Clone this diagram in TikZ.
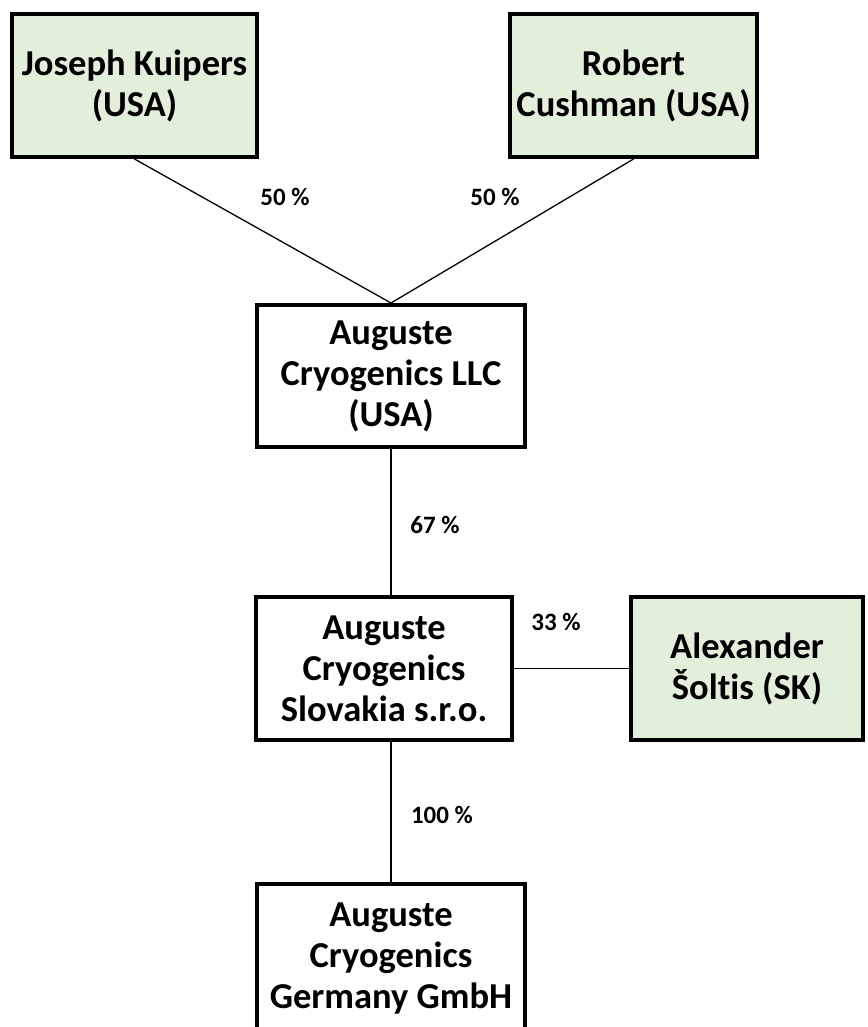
\documentclass[tikz,border=0pt]{standalone}
\usepackage{fontspec}
\setmainfont{Carlito}[Ligatures=NoCommon]
\definecolor{lgreen}{HTML}{E2EFDA}
\begin{document}
\begin{tikzpicture}[x=1pt,y=-1pt,
  box/.style={draw=black, line width=4pt, align=center, inner sep=0pt,
    font=\fontsize{36.5}{41}\selectfont\bfseries},
  person/.style={box, fill=lgreen},
  company/.style={box, fill=white},
  conn/.style={line width=1.3pt},
  pct/.style={font=\fontsize{25}{29}\selectfont\bfseries, inner sep=0pt}]
\useasboundingbox (0,0) rectangle (867,1027);
\clip (0,0) rectangle (867,1027);
\node[person, minimum width=245, minimum height=143] (jk) at (134.5,85.5) {Joseph Kuipers\\(USA)};
\node[person, minimum width=247, minimum height=143] (rc) at (633.5,85.5) {Robert\\Cushman (USA)};
\node[company, minimum width=268, minimum height=142] (llc) at (391,376) {Auguste\\Cryogenics LLC\\(USA)};
\node[company, minimum width=256, minimum height=143] (sk) at (384,668.5) {Auguste\\Cryogenics\\Slovakia s.r.o.};
\node[person, minimum width=232, minimum height=143] (as) at (747,668.5) {Alexander\\Šoltis (SK)};
\node[company, minimum width=268, minimum height=150, anchor=north] (de) at (391,882) {Auguste\\Cryogenics\\Germany GmbH};
\draw[conn] (jk.south) -- (llc.north);
\draw[conn] (rc.south) -- (llc.north);
\draw[conn] (llc.south) -- (llc.south |- sk.north);
\draw[conn] (sk.east) -- (as.west);
\draw[conn] (de.north |- sk.south) -- (de.north);
\node[pct] (p1) at (285,197) {50 \%};
\node[pct] (p2) at (495,197) {50 \%};
\node[pct] (p3) at (435,525) {67 \%};
\node[pct] (p4) at (556,622) {33 \%};
\node[pct] (p5) at (442,815) {100 \%};
\end{tikzpicture}
\end{document}
